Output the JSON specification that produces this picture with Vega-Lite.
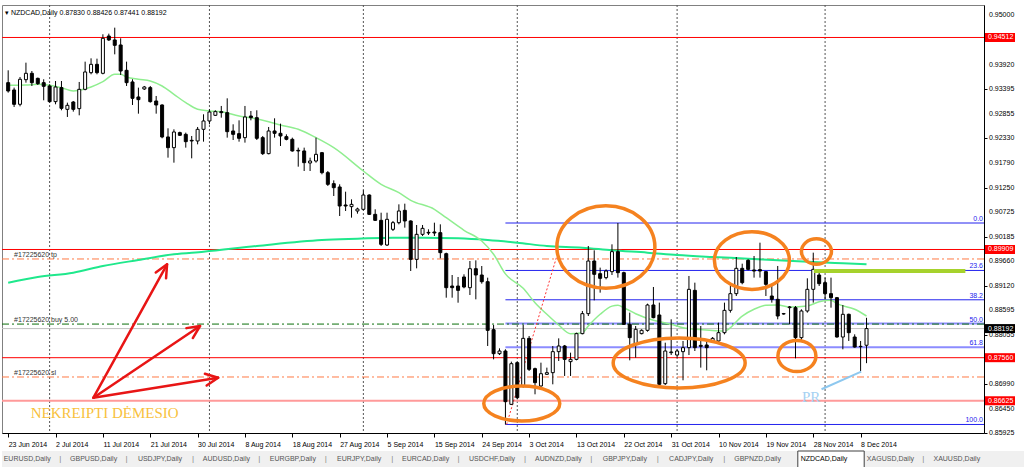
{
"$schema": "https://vega.github.io/schema/vega-lite/v6.json",
"padding": {"left": 0, "top": 4, "right": 0, "bottom": 0},
"background": "white",
"spacing": 2,
"config": {"font": "Liberation Sans", "view": {"stroke": null}, "axis": {"labelFont": "Liberation Sans", "labelFontSize": 7, "labelColor": "#000", "domainColor": "#000", "tickColor": "#000", "grid": false}},
"datasets": {
"candles": [
{"i":0,"o":0.93531,"h":0.93799,"l":0.93314,"c":0.93350},
{"i":1,"o":0.93372,"h":0.93423,"l":0.93003,"c":0.93061},
{"i":2,"o":0.93061,"h":0.93654,"l":0.93017,"c":0.93604},
{"i":3,"o":0.93596,"h":0.93965,"l":0.93531,"c":0.93734},
{"i":4,"o":0.93734,"h":0.93784,"l":0.93459,"c":0.93531},
{"i":5,"o":0.93625,"h":0.93640,"l":0.93480,"c":0.93509},
{"i":6,"o":0.93531,"h":0.93604,"l":0.93148,"c":0.93452},
{"i":7,"o":0.93459,"h":0.93495,"l":0.93097,"c":0.93119},
{"i":8,"o":0.93119,"h":0.93567,"l":0.93061,"c":0.93437},
{"i":9,"o":0.93423,"h":0.93567,"l":0.92931,"c":0.92974},
{"i":10,"o":0.92952,"h":0.93097,"l":0.92786,"c":0.93039},
{"i":11,"o":0.93111,"h":0.93133,"l":0.92902,"c":0.92952},
{"i":12,"o":0.92967,"h":0.93546,"l":0.92822,"c":0.93386},
{"i":13,"o":0.93386,"h":0.93987,"l":0.93365,"c":0.93763},
{"i":14,"o":0.93748,"h":0.94059,"l":0.93712,"c":0.93929},
{"i":15,"o":0.93929,"h":0.94052,"l":0.93712,"c":0.93748},
{"i":16,"o":0.93734,"h":0.94581,"l":0.93712,"c":0.94494},
{"i":17,"o":0.94544,"h":0.94595,"l":0.94436,"c":0.94458},
{"i":18,"o":0.94458,"h":0.94725,"l":0.94146,"c":0.94342},
{"i":19,"o":0.94349,"h":0.94494,"l":0.93698,"c":0.93784},
{"i":20,"o":0.93799,"h":0.93987,"l":0.93459,"c":0.93531},
{"i":21,"o":0.93546,"h":0.93604,"l":0.93046,"c":0.93191},
{"i":22,"o":0.93220,"h":0.93423,"l":0.92858,"c":0.93162},
{"i":23,"o":0.93394,"h":0.93459,"l":0.93372,"c":0.93437},
{"i":24,"o":0.93423,"h":0.93459,"l":0.93097,"c":0.93119},
{"i":25,"o":0.93133,"h":0.93242,"l":0.92858,"c":0.93046},
{"i":26,"o":0.93046,"h":0.93061,"l":0.92323,"c":0.92352},
{"i":27,"o":0.92352,"h":0.92540,"l":0.91903,"c":0.92120},
{"i":28,"o":0.92120,"h":0.92518,"l":0.91794,"c":0.92460},
{"i":29,"o":0.92446,"h":0.92467,"l":0.92373,"c":0.92388},
{"i":30,"o":0.92409,"h":0.92446,"l":0.92120,"c":0.92250},
{"i":31,"o":0.92279,"h":0.92373,"l":0.91888,"c":0.92265},
{"i":32,"o":0.92265,"h":0.92569,"l":0.92192,"c":0.92518},
{"i":33,"o":0.92518,"h":0.92844,"l":0.92250,"c":0.92699},
{"i":34,"o":0.92699,"h":0.92952,"l":0.92627,"c":0.92894},
{"i":35,"o":0.92822,"h":0.92931,"l":0.92807,"c":0.92902},
{"i":36,"o":0.92902,"h":0.93025,"l":0.92771,"c":0.92880},
{"i":37,"o":0.92880,"h":0.93191,"l":0.92337,"c":0.92467},
{"i":38,"o":0.92482,"h":0.92627,"l":0.92286,"c":0.92409},
{"i":39,"o":0.92424,"h":0.92713,"l":0.92250,"c":0.92323},
{"i":40,"o":0.92337,"h":0.93025,"l":0.92229,"c":0.92786},
{"i":41,"o":0.92807,"h":0.92916,"l":0.92713,"c":0.92771},
{"i":42,"o":0.92771,"h":0.92931,"l":0.92286,"c":0.92323},
{"i":43,"o":0.92337,"h":0.92373,"l":0.91961,"c":0.91990},
{"i":44,"o":0.91990,"h":0.92569,"l":0.91975,"c":0.92482},
{"i":45,"o":0.92482,"h":0.92757,"l":0.92337,"c":0.92431},
{"i":46,"o":0.92431,"h":0.92641,"l":0.92156,"c":0.92373},
{"i":47,"o":0.92359,"h":0.92409,"l":0.92279,"c":0.92301},
{"i":48,"o":0.92301,"h":0.92337,"l":0.92033,"c":0.92048},
{"i":49,"o":0.92062,"h":0.92120,"l":0.91707,"c":0.92048},
{"i":50,"o":0.92048,"h":0.92120,"l":0.91613,"c":0.91794},
{"i":51,"o":0.91787,"h":0.91903,"l":0.91613,"c":0.91830},
{"i":52,"o":0.91830,"h":0.92337,"l":0.91794,"c":0.91975},
{"i":53,"o":0.92011,"h":0.92026,"l":0.91541,"c":0.91577},
{"i":54,"o":0.91577,"h":0.91613,"l":0.91288,"c":0.91324},
{"i":55,"o":0.91338,"h":0.91410,"l":0.91070,"c":0.91251},
{"i":56,"o":0.91266,"h":0.91324,"l":0.90636,"c":0.90853},
{"i":57,"o":0.90875,"h":0.91164,"l":0.90745,"c":0.90853},
{"i":58,"o":0.90839,"h":0.90998,"l":0.90600,"c":0.90889},
{"i":59,"o":0.90745,"h":0.90817,"l":0.90687,"c":0.90788},
{"i":60,"o":0.90781,"h":0.91193,"l":0.90759,"c":0.91092},
{"i":61,"o":0.91092,"h":0.91106,"l":0.90658,"c":0.90672},
{"i":62,"o":0.90672,"h":0.90781,"l":0.90528,"c":0.90542},
{"i":63,"o":0.90542,"h":0.90708,"l":0.89985,"c":0.90021},
{"i":64,"o":0.90006,"h":0.90708,"l":0.89985,"c":0.90564},
{"i":65,"o":0.90347,"h":0.90528,"l":0.90310,"c":0.90491},
{"i":66,"o":0.90491,"h":0.90889,"l":0.90455,"c":0.90745},
{"i":67,"o":0.90759,"h":0.90904,"l":0.90383,"c":0.90528},
{"i":68,"o":0.90528,"h":0.90542,"l":0.89442,"c":0.89695},
{"i":69,"o":0.89695,"h":0.90441,"l":0.89500,"c":0.90238},
{"i":70,"o":0.90238,"h":0.90441,"l":0.90202,"c":0.90368},
{"i":71,"o":0.90281,"h":0.90347,"l":0.90224,"c":0.90267},
{"i":72,"o":0.90289,"h":0.90491,"l":0.90202,"c":0.90267},
{"i":73,"o":0.90274,"h":0.90455,"l":0.89717,"c":0.89840},
{"i":74,"o":0.89818,"h":0.89840,"l":0.88863,"c":0.89080},
{"i":75,"o":0.89116,"h":0.89355,"l":0.88863,"c":0.89080},
{"i":76,"o":0.89116,"h":0.89312,"l":0.88754,"c":0.89022},
{"i":77,"o":0.89312,"h":0.89370,"l":0.89066,"c":0.89095},
{"i":78,"o":0.89080,"h":0.89659,"l":0.88921,"c":0.89492},
{"i":79,"o":0.89492,"h":0.89673,"l":0.88827,"c":0.89355},
{"i":80,"o":0.89355,"h":0.89550,"l":0.89167,"c":0.89210},
{"i":81,"o":0.89210,"h":0.89297,"l":0.87814,"c":0.88154},
{"i":82,"o":0.88168,"h":0.88270,"l":0.87524,"c":0.87647},
{"i":83,"o":0.87647,"h":0.87763,"l":0.87618,"c":0.87705},
{"i":84,"o":0.87705,"h":0.87742,"l":0.86110,"c":0.86605},
{"i":85,"o":0.86547,"h":0.87474,"l":0.86533,"c":0.87430},
{"i":86,"o":0.87452,"h":0.87474,"l":0.86656,"c":0.86692},
{"i":87,"o":0.86946,"h":0.88270,"l":0.86909,"c":0.87980},
{"i":88,"o":0.87980,"h":0.88031,"l":0.87271,"c":0.87307},
{"i":89,"o":0.87322,"h":0.87344,"l":0.86765,"c":0.87018},
{"i":90,"o":0.86946,"h":0.87452,"l":0.86909,"c":0.87213},
{"i":91,"o":0.87199,"h":0.87344,"l":0.87184,"c":0.87235},
{"i":92,"o":0.87235,"h":0.87814,"l":0.86982,"c":0.87691},
{"i":93,"o":0.87691,"h":0.87980,"l":0.87488,"c":0.87814},
{"i":94,"o":0.87814,"h":0.87836,"l":0.87163,"c":0.87524},
{"i":95,"o":0.87474,"h":0.87669,"l":0.87163,"c":0.87524},
{"i":96,"o":0.87524,"h":0.88103,"l":0.87503,"c":0.88082},
{"i":97,"o":0.88082,"h":0.88574,"l":0.88067,"c":0.88516},
{"i":98,"o":0.88516,"h":0.89985,"l":0.88465,"c":0.89659},
{"i":99,"o":0.89659,"h":0.89891,"l":0.88805,"c":0.89370},
{"i":100,"o":0.89384,"h":0.89515,"l":0.88972,"c":0.89283},
{"i":101,"o":0.89298,"h":0.89478,"l":0.89261,"c":0.89442},
{"i":102,"o":0.89428,"h":0.90021,"l":0.89355,"c":0.89862},
{"i":103,"o":0.89862,"h":0.90484,"l":0.89298,"c":0.89406},
{"i":104,"o":0.89406,"h":0.89428,"l":0.88270,"c":0.88284},
{"i":105,"o":0.88284,"h":0.88538,"l":0.87503,"c":0.87995},
{"i":106,"o":0.87850,"h":0.88248,"l":0.87561,"c":0.88176},
{"i":107,"o":0.88082,"h":0.88176,"l":0.88067,"c":0.88154},
{"i":108,"o":0.88154,"h":0.88733,"l":0.88125,"c":0.88704},
{"i":109,"o":0.88704,"h":0.89095,"l":0.88415,"c":0.88429},
{"i":110,"o":0.88487,"h":0.88755,"l":0.86946,"c":0.86982},
{"i":111,"o":0.86996,"h":0.87886,"l":0.86967,"c":0.87705},
{"i":112,"o":0.87669,"h":0.88393,"l":0.87618,"c":0.87684},
{"i":113,"o":0.87618,"h":0.87742,"l":0.87561,"c":0.87705},
{"i":114,"o":0.87691,"h":0.87923,"l":0.87069,"c":0.87778},
{"i":115,"o":0.87778,"h":0.89334,"l":0.87618,"c":0.89044},
{"i":116,"o":0.89022,"h":0.89189,"l":0.87705,"c":0.87778},
{"i":117,"o":0.87828,"h":0.88248,"l":0.87344,"c":0.87807},
{"i":118,"o":0.87836,"h":0.87923,"l":0.87286,"c":0.87778},
{"i":119,"o":0.87923,"h":0.88009,"l":0.87886,"c":0.87980},
{"i":120,"o":0.87923,"h":0.88321,"l":0.87886,"c":0.88103},
{"i":121,"o":0.88103,"h":0.88755,"l":0.88067,"c":0.88588},
{"i":122,"o":0.88588,"h":0.89117,"l":0.88538,"c":0.88950},
{"i":123,"o":0.88950,"h":0.89746,"l":0.88899,"c":0.89500},
{"i":124,"o":0.89500,"h":0.89601,"l":0.89153,"c":0.89189},
{"i":125,"o":0.89674,"h":0.89696,"l":0.89457,"c":0.89478},
{"i":126,"o":0.89464,"h":0.89768,"l":0.89298,"c":0.89442},
{"i":127,"o":0.89471,"h":0.90057,"l":0.89298,"c":0.89442},
{"i":128,"o":0.89428,"h":0.89442,"l":0.88899,"c":0.89153},
{"i":129,"o":0.88899,"h":0.89117,"l":0.88755,"c":0.88827},
{"i":130,"o":0.88827,"h":0.89551,"l":0.88393,"c":0.88465},
{"i":131,"o":0.88516,"h":0.88531,"l":0.88494,"c":0.88509},
{"i":132,"o":0.88646,"h":0.88682,"l":0.88284,"c":0.88661},
{"i":133,"o":0.88646,"h":0.88682,"l":0.87546,"c":0.87995},
{"i":134,"o":0.87995,"h":0.88610,"l":0.87937,"c":0.88574},
{"i":135,"o":0.88574,"h":0.89283,"l":0.88538,"c":0.89044},
{"i":136,"o":0.89044,"h":0.89840,"l":0.88755,"c":0.89478},
{"i":137,"o":0.89355,"h":0.89442,"l":0.89117,"c":0.89167},
{"i":138,"o":0.89189,"h":0.89298,"l":0.88827,"c":0.88950},
{"i":139,"o":0.88950,"h":0.89298,"l":0.88646,"c":0.88863},
{"i":140,"o":0.88863,"h":0.88878,"l":0.87995,"c":0.88009},
{"i":141,"o":0.88009,"h":0.88704,"l":0.87742,"c":0.88502},
{"i":142,"o":0.88502,"h":0.88516,"l":0.87923,"c":0.88103},
{"i":143,"o":0.88009,"h":0.88067,"l":0.87778,"c":0.87792},
{"i":144,"o":0.87807,"h":0.87923,"l":0.87271,"c":0.87800},
{"i":145,"o":0.87830,"h":0.88426,"l":0.87441,"c":0.88192}
],
"ma": [
{"s":"fast","i":0,"p":0.93474},{"s":"fast","i":3,"p":0.93480},{"s":"fast","i":5,"p":0.93495},{"s":"fast","i":7,"p":0.93474},{"s":"fast","i":9,"p":0.93422},{"s":"fast","i":11,"p":0.93350},{"s":"fast","i":12,"p":0.93365},{"s":"fast","i":14,"p":0.93437},{"s":"fast","i":16,"p":0.93552},{"s":"fast","i":18,"p":0.93713},{"s":"fast","i":19,"p":0.93713},{"s":"fast","i":20,"p":0.93654},{"s":"fast","i":22,"p":0.93604},{"s":"fast","i":24,"p":0.93567},{"s":"fast","i":26,"p":0.93459},{"s":"fast","i":28,"p":0.93278},{"s":"fast","i":30,"p":0.93096},{"s":"fast","i":32,"p":0.92953},{"s":"fast","i":34,"p":0.92916},{"s":"fast","i":36,"p":0.92901},{"s":"fast","i":39,"p":0.92807},{"s":"fast","i":41,"p":0.92770},{"s":"fast","i":44,"p":0.92683},{"s":"fast","i":46,"p":0.92612},{"s":"fast","i":49,"p":0.92518},{"s":"fast","i":52,"p":0.92336},{"s":"fast","i":55,"p":0.92119},{"s":"fast","i":60,"p":0.91613},{"s":"fast","i":63,"p":0.91324},{"s":"fast","i":66,"p":0.91142},{"s":"fast","i":68,"p":0.90977},{"s":"fast","i":72,"p":0.90781},{"s":"fast","i":74,"p":0.90599},{"s":"fast","i":77,"p":0.90326},{"s":"fast","i":80,"p":0.90093},{"s":"fast","i":82,"p":0.89805},{"s":"fast","i":84,"p":0.89380},{"s":"fast","i":87,"p":0.89066},{"s":"fast","i":89,"p":0.88754},{"s":"fast","i":91,"p":0.88502},{"s":"fast","i":93,"p":0.88270},{"s":"fast","i":95,"p":0.88081},{"s":"fast","i":97,"p":0.88102},{"s":"fast","i":98,"p":0.88248},{"s":"fast","i":100,"p":0.88502},{"s":"fast","i":102,"p":0.88680},{"s":"fast","i":103,"p":0.88700},{"s":"fast","i":104,"p":0.88645},{"s":"fast","i":106,"p":0.88515},{"s":"fast","i":109,"p":0.88372},{"s":"fast","i":112,"p":0.88285},{"s":"fast","i":114,"p":0.88211},{"s":"fast","i":117,"p":0.88170},{"s":"fast","i":121,"p":0.88139},{"s":"fast","i":124,"p":0.88465},{"s":"fast","i":126,"p":0.88611},{"s":"fast","i":128,"p":0.88697},{"s":"fast","i":130,"p":0.88704},{"s":"fast","i":132,"p":0.88660},{"s":"fast","i":135,"p":0.88682},{"s":"fast","i":137,"p":0.88776},{"s":"fast","i":139,"p":0.88806},{"s":"fast","i":140,"p":0.88732},{"s":"fast","i":143,"p":0.88611},{"s":"fast","i":145,"p":0.88465},
{"s":"slow","i":0,"p":0.89188},{"s":"slow","i":5,"p":0.89312},{"s":"slow","i":11,"p":0.89405},{"s":"slow","i":16,"p":0.89551},{"s":"slow","i":22,"p":0.89681},{"s":"slow","i":28,"p":0.89805},{"s":"slow","i":33,"p":0.89861},{"s":"slow","i":42,"p":0.89985},{"s":"slow","i":53,"p":0.90115},{"s":"slow","i":59,"p":0.90143},{"s":"slow","i":65,"p":0.90165},{"s":"slow","i":70,"p":0.90165},{"s":"slow","i":76,"p":0.90152},{"s":"slow","i":81,"p":0.90115},{"s":"slow","i":86,"p":0.90057},{"s":"slow","i":91,"p":0.89985},{"s":"slow","i":97,"p":0.89948},{"s":"slow","i":102,"p":0.89891},{"s":"slow","i":108,"p":0.89840},{"s":"slow","i":113,"p":0.89789},{"s":"slow","i":119,"p":0.89746},{"s":"slow","i":125,"p":0.89709},{"s":"slow","i":130,"p":0.89674},{"s":"slow","i":136,"p":0.89637},{"s":"slow","i":141,"p":0.89609},{"s":"slow","i":145,"p":0.89587}
],
"lv": [
{"k":"red","p":0.94512},{"k":"red","p":0.89909},{"k":"red","p":0.87560},
{"k":"pink","p":0.86625},
{"k":"orange","p":0.89703},{"k":"orange","p":0.87141},
{"k":"green","p":0.88290},
{"k":"gray","p":0.88192}
],
"fib": [
{"lvl":"0.0","p":0.90484,"i":84,"k":"m"},
{"lvl":"23.6","p":0.89454,"i":84,"k":"m"},
{"lvl":"38.2","p":0.88817,"i":84,"k":"m"},
{"lvl":"50.0","p":0.88302,"i":84,"k":"l"},
{"lvl":"61.8","p":0.87787,"i":84,"k":"l"},
{"lvl":"100.0","p":0.86110,"i":84,"k":"m"}
],
"yticks": [
{"p":0.95},{"p":0.9392},{"p":0.93395},{"p":0.92855},{"p":0.9233},{"p":0.9179},{"p":0.9125},{"p":0.90725},{"p":0.90185},{"p":0.8966},{"p":0.8912},{"p":0.88595},{"p":0.88055},{"p":0.8699},{"p":0.8645},{"p":0.85925}
],
"months": [{"i":7},{"i":34},{"i":60},{"i":86},{"i":113},{"i":138}],
"ell": [
{"id":"e1","i":86.76,"p":0.86565},
{"id":"e2","i":100.97,"p":0.89963},
{"id":"e3","i":113.35,"p":0.87445},
{"id":"e4","i":125.64,"p":0.89670},
{"id":"e5","i":136.54,"p":0.89865},
{"id":"e6","i":133.24,"p":0.87597}
],
"arrows": [
{"seg":"a1","k":0,"i":14.40,"p":0.86691},{"seg":"a1","k":1,"i":26.84,"p":0.89587},
{"seg":"h1","k":0,"i":24.93,"p":0.89409},{"seg":"h1","k":1,"i":26.84,"p":0.89587},{"seg":"h1","k":2,"i":26.67,"p":0.89283},
{"seg":"a2","k":0,"i":14.40,"p":0.86691},{"seg":"a2","k":1,"i":32.41,"p":0.88248},
{"seg":"h2","k":0,"i":30.10,"p":0.88202},{"seg":"h2","k":1,"i":32.41,"p":0.88248},{"seg":"h2","k":2,"i":31.19,"p":0.87987},
{"seg":"a3","k":0,"i":14.40,"p":0.86691},{"seg":"a3","k":1,"i":35.47,"p":0.87125},
{"seg":"h3","k":0,"i":33.23,"p":0.87210},{"seg":"h3","k":1,"i":35.47,"p":0.87125},{"seg":"h3","k":2,"i":33.53,"p":0.86956}
],
"trend": [{"k":0,"i":84.2,"p":0.86110},{"k":1,"i":92.6,"p":0.89730}],
"prline": [{"k":0,"i":137.4,"p":0.86874},{"k":1,"i":144.1,"p":0.87256}],
"yg": [{"i0":136.1,"i1":161.7,"p":0.89442}],
"tags": [
{"p":0.94512,"t":"0.94512","k":"r"},
{"p":0.89909,"t":"0.89909","k":"r"},
{"p":0.88192,"t":"0.88192","k":"b"},
{"p":0.87560,"t":"0.87560","k":"r"},
{"p":0.86625,"t":"0.86625","k":"r"}
],
"orders": [
{"p":0.89703,"t":"#17225620 tp"},
{"p":0.88290,"t":"#17225620 buy 5.00"},
{"p":0.87141,"t":"#17225620 sl"}
],
"notes": [{"i":3.8,"p":0.86251,"t":"NEKREIPTI DĖMESIO"}],
"pr": [{"i":134.1,"p":0.86598,"t":"PR"}],
"tabs": [
{"t":"EURUSD,Daily","s":0},{"t":"GBPUSD,Daily","s":0},{"t":"USDJPY,Daily","s":0},{"t":"AUDUSD,Daily","s":0},{"t":"EURGBP,Daily","s":0},{"t":"EURJPY,Daily","s":0},{"t":"EURCAD,Daily","s":0},{"t":"USDCHF,Daily","s":0},{"t":"AUDNZD,Daily","s":0},{"t":"GBPJPY,Daily","s":0},{"t":"CADJPY,Daily","s":0},{"t":"GBPNZD,Daily","s":0},{"t":"NZDCAD,Daily","s":1},{"t":"XAGUSD,Daily","s":0},{"t":"XAUUSD,Daily","s":0}
]
},
"vconcat": [
{
"width": 982,
"height": 428,
"view": {"stroke": "#808080"},
"title": {"text": "▾ NZDCAD,Daily  0.87830 0.88426 0.87441 0.88192", "anchor": "start", "orient": "top", "offset": -11, "dx": 4, "fontSize": 7, "fontWeight": "normal", "font": "Liberation Sans", "color": "#000"},
"layer": [
{"data": {"name": "candles"},
 "mark": {"type": "rule", "opacity": 0},
 "encoding": {
  "x": {"field": "i", "type": "quantitative", "title": null,
        "scale": {"domain": [-0.2, 164.0], "nice": false, "zero": false},
        "axis": {"orient": "bottom", "values": [0,8,16,24,32,40,48,56,64,72,80,88,96,104,112,120,128,136,144], "labelAlign": "left", "labelPadding": 3, "tickSize": 4, "labelFlush": false, "labelOverlap": false,
                 "labelExpr": "['23 Jun 2014','2 Jul 2014','11 Jul 2014','21 Jul 2014','30 Jul 2014','8 Aug 2014','18 Aug 2014','27 Aug 2014','5 Sep 2014','15 Sep 2014','24 Sep 2014','3 Oct 2014','13 Oct 2014','22 Oct 2014','31 Oct 2014','10 Nov 2014','19 Nov 2014','28 Nov 2014','8 Dec 2014'][round(datum.value/8)]"}},
  "y": {"field": "l", "type": "quantitative", "title": null,
        "scale": {"domain": [0.85925, 0.95217], "nice": false, "zero": false},
        "axis": {"orient": "right", "values": [0.95,0.9446,0.9392,0.93395,0.92855,0.9233,0.9179,0.9125,0.90725,0.90185,0.8966,0.8912,0.88595,0.88055,0.87525,0.8699,0.8645,0.85925], "labels": false, "tickSize": 3}},
  "y2": {"field": "h"}}},
{"data": {"name": "yticks"},
 "mark": {"type": "text", "align": "left", "baseline": "middle", "dx": 5, "fontSize": 7, "color": "#000000"},
 "encoding": {"x": {"value": "width"}, "y": {"field": "p", "type": "quantitative"}, "text": {"field": "p", "type": "quantitative", "format": ".5f"}}},
{"data": {"name": "months"},
 "mark": {"type": "rule", "color": "#555555", "strokeDash": [2, 2], "strokeWidth": 1},
 "encoding": {"x": {"field": "i", "type": "quantitative"}}},
{"data": {"name": "lv"}, "transform": [{"filter": "datum.k == 'gray'"}],
 "mark": {"type": "rule", "color": "#c0c0c0", "strokeWidth": 1},
 "encoding": {"y": {"field": "p", "type": "quantitative"}}},
{"data": {"name": "lv"}, "transform": [{"filter": "datum.k == 'red'"}],
 "mark": {"type": "rule", "color": "#ff0000", "strokeWidth": 1},
 "encoding": {"y": {"field": "p", "type": "quantitative"}}},
{"data": {"name": "lv"}, "transform": [{"filter": "datum.k == 'pink'"}],
 "mark": {"type": "rule", "color": "#ff9a9a", "strokeWidth": 2},
 "encoding": {"y": {"field": "p", "type": "quantitative"}}},
{"data": {"name": "fib"}, "transform": [{"filter": "datum.k == 'm'"}],
 "mark": {"type": "rule", "color": "#2222ee", "strokeWidth": 1},
 "encoding": {"x": {"field": "i", "type": "quantitative"}, "x2": {"value": "width"}, "y": {"field": "p", "type": "quantitative"}}},
{"data": {"name": "fib"}, "transform": [{"filter": "datum.k == 'l'"}],
 "mark": {"type": "rule", "color": "#8c8cff", "strokeWidth": 2},
 "encoding": {"x": {"field": "i", "type": "quantitative"}, "x2": {"value": "width"}, "y": {"field": "p", "type": "quantitative"}}},
{"data": {"name": "lv"}, "transform": [{"filter": "datum.k == 'orange'"}],
 "mark": {"type": "rule", "color": "#ff7a45", "strokeWidth": 1, "strokeDash": [7, 3, 2, 3]},
 "encoding": {"y": {"field": "p", "type": "quantitative"}}},
{"data": {"name": "lv"}, "transform": [{"filter": "datum.k == 'green'"}],
 "mark": {"type": "rule", "color": "#0a6e0a", "strokeWidth": 1, "strokeDash": [7, 3, 2, 3]},
 "encoding": {"y": {"field": "p", "type": "quantitative"}}},
{"data": {"name": "fib"},
 "mark": {"type": "text", "align": "right", "baseline": "bottom", "dx": -1, "dy": -1, "fontSize": 7, "color": "#2222ee"},
 "encoding": {"x": {"value": "width"}, "y": {"field": "p", "type": "quantitative"}, "text": {"field": "lvl"}}},
{"data": {"name": "orders"},
 "mark": {"type": "text", "align": "left", "baseline": "bottom", "dy": -1, "fontSize": 7, "color": "#333333"},
 "encoding": {"x": {"datum": 1}, "y": {"field": "p", "type": "quantitative"}, "text": {"field": "t"}}},
{"data": {"name": "ma"}, "transform": [{"filter": "datum.s == 'slow'"}],
 "mark": {"type": "line", "color": "#1fe88c", "strokeWidth": 2, "interpolate": "monotone"},
 "encoding": {"x": {"field": "i", "type": "quantitative"}, "y": {"field": "p", "type": "quantitative"}}},
{"data": {"name": "ma"}, "transform": [{"filter": "datum.s == 'fast'"}],
 "mark": {"type": "line", "color": "#90ee90", "strokeWidth": 1.5, "interpolate": "monotone"},
 "encoding": {"x": {"field": "i", "type": "quantitative"}, "y": {"field": "p", "type": "quantitative"}}},
{"data": {"name": "trend"},
 "mark": {"type": "line", "color": "#ff3030", "strokeWidth": 1, "strokeDash": [2, 2]},
 "encoding": {"x": {"field": "i", "type": "quantitative"}, "y": {"field": "p", "type": "quantitative"}, "order": {"field": "k"}}},
{"data": {"name": "candles"},
 "mark": {"type": "rule", "color": "#000000", "strokeWidth": 1},
 "encoding": {"x": {"field": "i", "type": "quantitative"}, "y": {"field": "l", "type": "quantitative"}, "y2": {"field": "h"}}},
{"data": {"name": "candles"},
 "mark": {"type": "bar", "width": 3, "stroke": "#000000", "strokeWidth": 1},
 "encoding": {"x": {"field": "i", "type": "quantitative"}, "y": {"field": "o", "type": "quantitative"}, "y2": {"field": "c"},
   "fill": {"condition": {"test": "datum.c >= datum.o", "value": "#ffffff"}, "value": "#000000"}}},
{"data": {"name": "yg"},
 "mark": {"type": "rule", "color": "#a6d22c", "strokeWidth": 4},
 "encoding": {"x": {"field": "i0", "type": "quantitative"}, "x2": {"field": "i1"}, "y": {"field": "p", "type": "quantitative"}}},
{"data": {"name": "prline"},
 "mark": {"type": "line", "color": "#8ec8ef", "strokeWidth": 2},
 "encoding": {"x": {"field": "i", "type": "quantitative"}, "y": {"field": "p", "type": "quantitative"}, "order": {"field": "k"}}},
{"data": {"name": "ell"}, "transform": [{"filter": "datum.id == 'e1'"}],
 "mark": {"type": "point", "filled": false, "color": "#f5821f", "strokeWidth": 3.5, "opacity": 1, "size": 5776,
   "shape": "M1,0C1,0.254 0.552,0.46 0,0.46C-0.552,0.46 -1,0.254 -1,0C-1,-0.254 -0.552,-0.46 0,-0.46C0.552,-0.46 1,-0.254 1,0Z"},
 "encoding": {"x": {"field": "i", "type": "quantitative"}, "y": {"field": "p", "type": "quantitative"}}},
{"data": {"name": "ell"}, "transform": [{"filter": "datum.id == 'e2'"}],
 "mark": {"type": "point", "filled": false, "color": "#f5821f", "strokeWidth": 3.5, "opacity": 1, "size": 9604,
   "shape": "M1,0C1,0.464 0.552,0.84 0,0.84C-0.552,0.84 -1,0.464 -1,0C-1,-0.464 -0.552,-0.84 0,-0.84C0.552,-0.84 1,-0.464 1,0Z"},
 "encoding": {"x": {"field": "i", "type": "quantitative"}, "y": {"field": "p", "type": "quantitative"}}},
{"data": {"name": "ell"}, "transform": [{"filter": "datum.id == 'e3'"}],
 "mark": {"type": "point", "filled": false, "color": "#f5821f", "strokeWidth": 3.5, "opacity": 1, "size": 17424,
   "shape": "M1,0C1,0.21 0.552,0.38 0,0.38C-0.552,0.38 -1,0.21 -1,0C-1,-0.21 -0.552,-0.38 0,-0.38C0.552,-0.38 1,-0.21 1,0Z"},
 "encoding": {"x": {"field": "i", "type": "quantitative"}, "y": {"field": "p", "type": "quantitative"}}},
{"data": {"name": "ell"}, "transform": [{"filter": "datum.id == 'e4'"}],
 "mark": {"type": "point", "filled": false, "color": "#f5821f", "strokeWidth": 3.5, "opacity": 1, "size": 5625,
   "shape": "M1,0C1,0.425 0.552,0.77 0,0.77C-0.552,0.77 -1,0.425 -1,0C-1,-0.425 -0.552,-0.77 0,-0.77C0.552,-0.77 1,-0.425 1,0Z"},
 "encoding": {"x": {"field": "i", "type": "quantitative"}, "y": {"field": "p", "type": "quantitative"}}},
{"data": {"name": "ell"}, "transform": [{"filter": "datum.id == 'e5'"}],
 "mark": {"type": "point", "filled": false, "color": "#f5821f", "strokeWidth": 3.5, "opacity": 1, "size": 900,
   "shape": "M1,0C1,0.469 0.552,0.85 0,0.85C-0.552,0.85 -1,0.469 -1,0C-1,-0.469 -0.552,-0.85 0,-0.85C0.552,-0.85 1,-0.469 1,0Z"},
 "encoding": {"x": {"field": "i", "type": "quantitative"}, "y": {"field": "p", "type": "quantitative"}}},
{"data": {"name": "ell"}, "transform": [{"filter": "datum.id == 'e6'"}],
 "mark": {"type": "point", "filled": false, "color": "#f5821f", "strokeWidth": 3.5, "opacity": 1, "size": 1444,
   "shape": "M1,0C1,0.453 0.552,0.82 0,0.82C-0.552,0.82 -1,0.453 -1,0C-1,-0.453 -0.552,-0.82 0,-0.82C0.552,-0.82 1,-0.453 1,0Z"},
 "encoding": {"x": {"field": "i", "type": "quantitative"}, "y": {"field": "p", "type": "quantitative"}}},
{"data": {"name": "arrows"},
 "mark": {"type": "line", "color": "#e81515", "strokeWidth": 2.5, "strokeCap": "round", "strokeJoin": "round"},
 "encoding": {"x": {"field": "i", "type": "quantitative"}, "y": {"field": "p", "type": "quantitative"}, "detail": {"field": "seg"}, "order": {"field": "k"}}},
{"data": {"name": "notes"},
 "mark": {"type": "text", "align": "left", "baseline": "alphabetic", "font": "Liberation Serif", "fontSize": 15, "color": "#f8c13c"},
 "encoding": {"x": {"field": "i", "type": "quantitative"}, "y": {"field": "p", "type": "quantitative"}, "text": {"field": "t"}}},
{"data": {"name": "pr"},
 "mark": {"type": "text", "align": "left", "baseline": "alphabetic", "font": "Liberation Serif", "fontSize": 15, "color": "#a6d1f2"},
 "encoding": {"x": {"field": "i", "type": "quantitative"}, "y": {"field": "p", "type": "quantitative"}, "text": {"field": "t"}}},
{"data": {"name": "tags"},
 "mark": {"type": "rect", "xOffset": 1, "x2Offset": 31, "yOffset": -4.5, "y2Offset": 4.5},
 "encoding": {"x": {"value": "width"}, "x2": {"value": "width"}, "y": {"field": "p", "type": "quantitative"}, "y2": {"field": "p"},
   "fill": {"field": "k", "type": "nominal", "legend": null, "scale": {"domain": ["r", "b"], "range": ["#ff0000", "#000000"]}}}},
{"data": {"name": "tags"},
 "mark": {"type": "text", "align": "left", "baseline": "middle", "dx": 4, "fontSize": 7, "color": "#ffffff"},
 "encoding": {"x": {"value": "width"}, "y": {"field": "p", "type": "quantitative"}, "text": {"field": "t"}}}
]
},
{
"width": 1024,
"height": 19,
"view": {"fill": "#f0f0f0", "stroke": null},
"data": {"name": "tabs"},
"layer": [
{"transform": [{"filter": "datum.s == 1"}],
 "mark": {"type": "rect", "fill": "#ffffff", "stroke": "#404040", "strokeWidth": 1, "xOffset": 7, "x2Offset": 7, "y2Offset": -4},
 "encoding": {"x": {"field": "t", "type": "nominal", "sort": null, "axis": null, "scale": {"domain": ["EURUSD,Daily","GBPUSD,Daily","USDJPY,Daily","AUDUSD,Daily","EURGBP,Daily","EURJPY,Daily","EURCAD,Daily","USDCHF,Daily","AUDNZD,Daily","GBPJPY,Daily","CADJPY,Daily","GBPNZD,Daily","NZDCAD,Daily","XAGUSD,Daily","XAUUSD,Daily"], "range": [-8, 988], "paddingInner": 0, "paddingOuter": 0}}}},
{"mark": {"type": "text", "fontSize": 7, "baseline": "middle", "dy": -2},
 "encoding": {"x": {"field": "t", "type": "nominal", "sort": null}, "text": {"field": "t"},
   "color": {"condition": {"test": "datum.s == 1", "value": "#000000"}, "value": "#555555"}}},
{"transform": [{"filter": "datum.t != 'GBPNZD,Daily' && datum.t != 'NZDCAD,Daily' && datum.t != 'XAUUSD,Daily'"}],
 "mark": {"type": "text", "fontSize": 8, "baseline": "middle", "dx": 33, "dy": -2, "color": "#888888"},
 "encoding": {"x": {"field": "t", "type": "nominal", "sort": null}, "text": {"value": "|"}}}
]
}
]
}
